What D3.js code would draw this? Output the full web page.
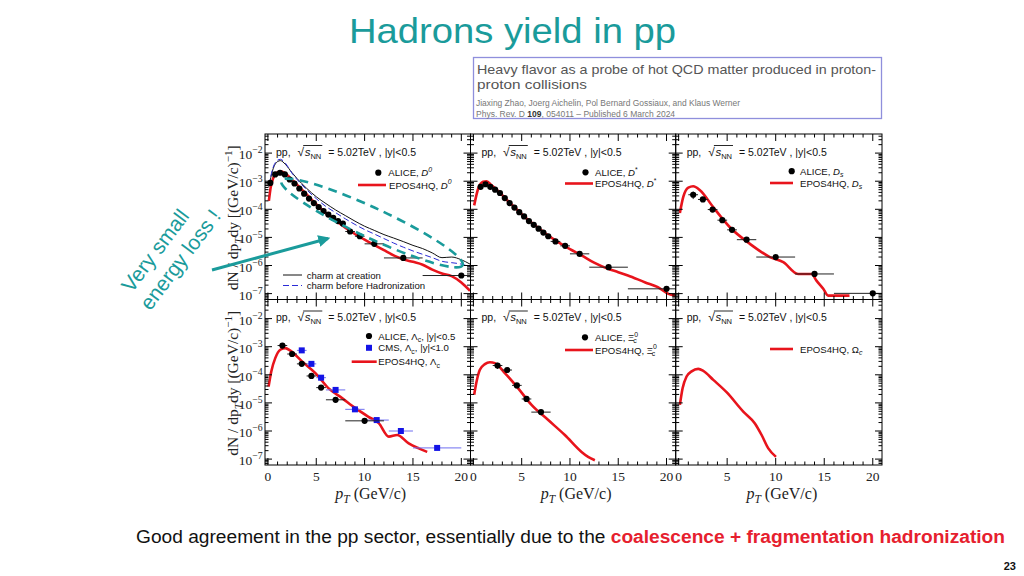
<!DOCTYPE html>
<html><head><meta charset="utf-8">
<script src="https://cdn.jsdelivr.net/npm/d3@7"></script>
<style>body{margin:0;background:#fff;} svg{display:block;}</style>
</head><body>
<svg id="c" width="1024" height="576"></svg>
<script>
// ---------------- DATA ----------------
const xTicks = [0, 5, 10, 15, 20];
const yTickExps = [-2, -3, -4, -5, -6, -7];

// D0 (top-left)
const d0Pt  = [0.25,0.75,1.25,1.75,2.25,2.75,3.25,3.75,4.25,4.75,5.25,5.75,6.25,6.75,7.25,7.75,8.5,9.5,11,14,20];
const d0Lo  = [0,0.5,1,1.5,2,2.5,3,3.5,4,4.5,5,5.5,6,6.5,7,7.5,8,9,10,12,16];
const d0Hi  = [0.5,1,1.5,2,2.5,3,3.5,4,4.5,5,5.5,6,6.5,7,7.5,8,9,10,12,16,24];
const d0Val = [8.7e-4,1.74e-3,2.0e-3,1.74e-3,1.15e-3,8.3e-4,5.5e-4,3.6e-4,2.4e-4,1.66e-4,1.2e-4,8.7e-5,6.5e-5,5.0e-5,3.8e-5,3.1e-5,1.62e-5,1.1e-5,5.9e-6,1.86e-6,4.4e-7];
const d0EposPt  = [0.1,0.3,0.6,1.0,1.4,2.0,2.5,3.0,4,5,6,7,8,9,10,11,12,13,14,15,16,17,18,19,20,20.9];
const d0EposVal = [2.0e-4,6.3e-4,1.41e-3,2.1e-3,2.2e-3,1.66e-3,1.12e-3,7.6e-4,3.4e-4,1.51e-4,7.4e-5,4.0e-5,2.24e-5,1.32e-5,8.3e-6,5.4e-6,3.5e-6,2.3e-6,1.66e-6,1.35e-6,1.07e-6,7.1e-7,5.2e-7,4.2e-7,2.5e-7,1.26e-7];
const d0CreatePt  = [0.1,0.5,1.0,1.3,1.8,2.5,3,4,5,6,7,8,9,10,11,12,13,14,15,16,17,18,19,20,20.9];
const d0CreateVal = [6.3e-4,2.5e-3,5.0e-3,5.4e-3,4.0e-3,2.0e-3,1.26e-3,5.6e-4,2.8e-4,1.6e-4,9.5e-5,6.0e-5,3.8e-5,2.5e-5,1.78e-5,1.26e-5,9.5e-6,7.1e-6,5.2e-6,4.0e-6,2.8e-6,1.9e-6,2.0e-6,1.6e-6,1.12e-6];
const d0BeforePt  = [0.1,0.5,1.0,1.3,1.8,2.5,3,4,5,6,7,8,9,10,11,12,13,14,15,16,17,18,19,20,20.9];
const d0BeforeVal = [7.1e-4,2.8e-3,5.6e-3,6.0e-3,4.4e-3,1.9e-3,1.17e-3,5.0e-4,2.4e-4,1.26e-4,7.6e-5,4.6e-5,2.9e-5,1.9e-5,1.32e-5,9.1e-6,6.3e-6,4.5e-6,3.3e-6,2.5e-6,1.9e-6,1.41e-6,1.26e-6,1.12e-6,8.9e-7];

// D* (top-middle)
const dstPt  = [0.75,1.25,1.75,2.25,2.75,3.25,3.75,4.25,4.75,5.25,5.75,6.25,6.75,7.25,7.75,8.5,9.5,11,14,20];
const dstLo  = [0.5,1,1.5,2,2.5,3,3.5,4,4.5,5,5.5,6,6.5,7,7.5,8,9,10,12,16];
const dstHi  = [1,1.5,2,2.5,3,3.5,4,4.5,5,5.5,6,6.5,7,7.5,8,9,10,12,16,24];
const dstVal = [6.3e-4,7.8e-4,6.3e-4,5.0e-4,3.8e-4,2.5e-4,1.66e-4,1.15e-4,7.9e-5,5.6e-5,3.8e-5,2.8e-5,2.04e-5,1.48e-5,1.1e-5,7.2e-6,5.0e-6,2.6e-6,8.7e-7,1.48e-7];
const dstEposPt  = [0.08,0.5,1.0,1.36,1.88,2.5,3.5,4.5,5.5,6.5,7.5,8.78,10,11.2,12.5,13.95,15,16,17.8,19.1,20.2,20.9];
const dstEposVal = [1.38e-4,5.5e-4,9.5e-4,1.0e-3,7.2e-4,4.7e-4,2.1e-4,9.8e-5,4.7e-5,2.5e-5,1.35e-5,6.8e-6,3.8e-6,2.3e-6,1.26e-6,7.6e-7,5.8e-7,4.4e-7,2.5e-7,1.7e-7,9.8e-8,8.5e-8];

// Ds (top-right)
const dsPt  = [1.5,2.5,3.5,4.5,5.5,7,10,14,20];
const dsLo  = [1,2,3,4,5,6,8,12,16];
const dsHi  = [2,3,4,5,6,8,12,16,24];
const dsVal = [3.3e-4,2.24e-4,9.8e-5,4.1e-5,1.86e-5,8.3e-6,2.0e-6,5.0e-7,1.02e-7];
const dsErr = [0.3,0.15,0.15,0.15,0.15,0.1,0.1,0.12,0.15];
const dsEposPt  = [0.13,0.48,1.0,1.5,2.2,3.56,5.28,7.34,9.4,10.78,12.3,13.7,14.2,14.9,15.4,17.6];
const dsEposVal = [7.4e-5,2.75e-4,5.9e-4,6.6e-4,4.8e-4,1.2e-4,2.3e-5,5.9e-6,2.0e-6,1.32e-6,5.0e-7,5.0e-7,2.9e-7,1.48e-7,8.5e-8,8.5e-8];

// Lambda_c (bottom-left)
const lcAlicePt  = [1.5,2.5,3.5,4.5,5.5,7,10];
const lcAliceLo  = [1,2,3,4,5,6,8];
const lcAliceHi  = [2,3,4,5,6,8,12];
const lcAliceVal = [1.1e-3,5.5e-4,2.45e-4,9.1e-5,3.5e-5,1.29e-5,2.3e-6];
const lcAliceErr = [0.2,0.12,0.1,0.15,0.15,0.15,0.15];
const lcCmsPt  = [3.5,4.5,5.5,7,9,11.25,13.75,17.5];
const lcCmsLo  = [3,4,5,6,8,10,12.5,15];
const lcCmsHi  = [4,5,6,8,10,12.5,15,20];
const lcCmsVal = [7.4e-4,2.45e-4,7.9e-5,2.9e-5,5.9e-6,2.45e-6,1.0e-6,2.5e-7];
const lcEposPt  = [0.07,0.35,0.77,1.28,1.8,2.32,3.53,4.91,6.28,7.67,9.05,10.4,11.46,12.5,13.36,14.56,15.6,16.47];
const lcEposVal = [3.8e-5,1.32e-4,4.0e-4,7.8e-4,8.9e-4,7.2e-4,3.0e-4,1.15e-4,3.3e-5,1.48e-5,6.5e-6,3.2e-6,1.9e-6,6.3e-7,7.2e-7,3.6e-7,2.4e-7,1.8e-7];

// Xi_c0 (bottom-middle)
const xiPt  = [2.5,3.5,4.5,5.5,7];
const xiLo  = [2,3,4,5,6];
const xiHi  = [3,4,5,6,8];
const xiVal = [2.14e-4,1.48e-4,4.2e-5,1.38e-5,4.7e-6];
const xiErr = [0.25,0.15,0.2,0.2,0.2];
const xiEposPt  = [0.08,0.33,0.67,1.19,1.71,2.23,3.26,4.64,6.02,7.75,9.47,11.2,11.88,12.58];
const xiEposVal = [1.95e-5,5.8e-5,1.51e-4,2.4e-4,2.8e-4,2.6e-4,1.15e-4,3.3e-5,8.5e-6,2.45e-6,7.2e-7,1.8e-7,1.2e-7,9.1e-8];

// Omega_c (bottom-right)
const omEposPt  = [0.13,0.41,0.82,1.34,2.02,2.54,3.57,4.94,6.66,7.86,8.55,9.24,10.03];
const omEposVal = [8.5e-6,3.3e-5,8.7e-5,1.32e-4,1.62e-4,1.38e-4,6.6e-5,2.4e-5,4.9e-6,1.86e-6,7.2e-7,2.4e-7,1.2e-7];

// ---------------- DRAWING ----------------
const SANS = "'Liberation Sans', Arial, sans-serif";
const SERIF = "'Liberation Serif', 'Times New Roman', serif";
const TEAL = "#1a9b9b";
const RED = "#e8141c";
const svg = d3.select("#c");

// title
svg.append("text").attr("x", 349).attr("y", 43).attr("font-family", SANS).attr("font-size", 35)
  .attr("fill", TEAL).attr("textLength", 327).attr("lengthAdjust", "spacingAndGlyphs").text("Hadrons yield in pp");

// citation box
svg.append("rect").attr("x", 473.5).attr("y", 57.5).attr("width", 408).attr("height", 61)
  .attr("fill", "#fff").attr("stroke", "#8f8fdc").attr("stroke-width", 1.3);
const cit = [
  {t:"Heavy flavor as a probe of hot QCD matter produced in proton-", y:74, s:13.5, w:399, c:"#555"},
  {t:"proton collisions", y:89, s:13.5, w:110, c:"#555"},
];
cit.forEach(d => svg.append("text").attr("x", 477).attr("y", d.y).attr("font-family", SANS).attr("font-size", d.s)
  .attr("fill", d.c).attr("textLength", d.w).attr("lengthAdjust", "spacingAndGlyphs").text(d.t));
svg.append("text").attr("x", 476).attr("y", 106).attr("font-family", SANS).attr("font-size", 8.5).attr("fill", "#777")
  .attr("textLength", 264).attr("lengthAdjust", "spacingAndGlyphs")
  .text("Jiaxing Zhao, Joerg Aichelin, Pol Bernard Gossiaux, and Klaus Werner");
const pr = svg.append("text").attr("x", 476).attr("y", 116.5).attr("font-family", SANS).attr("font-size", 8.5).attr("fill", "#777");
pr.append("tspan").text("Phys. Rev. D ");
pr.append("tspan").attr("font-weight", "bold").attr("fill", "#333").text("109");
pr.append("tspan").text(", 054011 \u2013 Published 6 March 2024");

// rich text helper
function rich(sel, segs, size) {
  let cur = 0;
  segs.forEach(s => {
    const target = s.sup ? -size * 0.42 : s.sub ? size * 0.25 : 0;
    const ts = sel.append("tspan").attr("dy", target - cur).text(s.t);
    if (s.sup || s.sub) ts.attr("font-size", size * 0.72);
    if (s.i) ts.attr("font-style", "italic");
    if (s.dx) ts.attr("dx", s.dx);
    cur = target;
  });
}

const cols = [[265, 470.5], [470.5, 675.7], [675.7, 882]];
const rows = [[134, 299.5], [299.5, 465]];
const xDom = [-0.3, 20.95];
const yDom = [Math.pow(10, -7.21), Math.pow(10, -1.32)];

const BLUE = "#2b2bd6";
const panels = [
  {c:0, r:0,
   curves:[{x:d0CreatePt, y:d0CreateVal, color:"#111", w:1},
           {x:d0BeforePt, y:d0BeforeVal, color:BLUE, w:1, dash:"6,3"},
           {x:d0EposPt, y:d0EposVal, color:RED, w:2.6}],
   pts:[{x:d0Pt, y:d0Val, lo:d0Lo, hi:d0Hi, shape:"dot"}],
   leg:[{type:"dot", x:113.3, y:38.7, tx:123.3, segs:[{t:"ALICE, "},{t:"D",i:1},{t:"0",sup:1,i:1}]},
        {type:"line", x:93, x2:121, y:51, tx:124, segs:[{t:"EPOS4HQ, "},{t:"D",i:1},{t:"0",sup:1,i:1}]},
        {type:"black", x:18, x2:37, y:141, tx:41.7, segs:[{t:"charm at creation"}]},
        {type:"dash", x:18, x2:37, y:151.5, tx:41.7, segs:[{t:"charm before Hadronization"}]}]},
  {c:1, r:0,
   curves:[{x:dstEposPt, y:dstEposVal, color:RED, w:2.6}],
   pts:[{x:dstPt, y:dstVal, lo:dstLo, hi:dstHi, shape:"dot"}],
   leg:[{type:"dot", x:115, y:38.3, tx:124.5, segs:[{t:"ALICE, "},{t:"D",i:1},{t:"*",sup:1}]},
        {type:"line", x:94.5, x2:122.5, y:49.5, tx:124.5, segs:[{t:"EPOS4HQ, "},{t:"D",i:1},{t:"*",sup:1}]}]},
  {c:2, r:0,
   curves:[{x:dsEposPt, y:dsEposVal, color:RED, w:2.6}],
   pts:[{x:dsPt, y:dsVal, lo:dsLo, hi:dsHi, err:dsErr, shape:"dot"}],
   leg:[{type:"dot", x:116, y:37.2, tx:124.3, segs:[{t:"ALICE, "},{t:"D",i:1},{t:"s",sub:1,i:1}]},
        {type:"line", x:94.3, x2:117.3, y:49, tx:124.3, segs:[{t:"EPOS4HQ, "},{t:"D",i:1},{t:"s",sub:1,i:1}]}]},
  {c:0, r:1,
   curves:[{x:lcEposPt, y:lcEposVal, color:RED, w:2.6}],
   pts:[{x:lcCmsPt, y:lcCmsVal, lo:lcCmsLo, hi:lcCmsHi, shape:"square"},
        {x:lcAlicePt, y:lcAliceVal, lo:lcAliceLo, hi:lcAliceHi, err:lcAliceErr, shape:"dot"}],
   leg:[{type:"dot", x:104, y:36.5, tx:113.3, segs:[{t:"ALICE, \u039B"},{t:"c",sub:1},{t:", |y|<0.5"}]},
        {type:"square", x:104, y:48.3, tx:113.3, segs:[{t:"CMS, \u039B"},{t:"c",sub:1},{t:", |y|<1.0"}]},
        {type:"line", x:86.7, x2:111.7, y:62.2, tx:113.3, segs:[{t:"EPOS4HQ, \u039B"},{t:"c",sub:1}]}]},
  {c:1, r:1,
   curves:[{x:xiEposPt, y:xiEposVal, color:RED, w:2.6}],
   pts:[{x:xiPt, y:xiVal, lo:xiLo, hi:xiHi, err:xiErr, shape:"dot"}],
   leg:[{type:"dot", x:114.5, y:37.8, tx:124.5, segs:[{t:"ALICE, \u039E"},{t:"0",sup:1},{t:"c",sub:1,dx:-5}]},
        {type:"line", x:94.5, x2:122.5, y:50.5, tx:124.5, segs:[{t:"EPOS4HQ, \u039E"},{t:"0",sup:1},{t:"c",sub:1,dx:-5}]}]},
  {c:2, r:1,
   curves:[{x:omEposPt, y:omEposVal, color:RED, w:2.6}],
   pts:[],
   leg:[{type:"line", x:94.3, x2:117.3, y:49.5, tx:124.3, segs:[{t:"EPOS4HQ, \u03A9"},{t:"c",sub:1,i:1}]}]},
];

panels.forEach((p, pi) => {
  const [x0, x1] = cols[p.c], [y0, y1] = rows[p.r];
  const x = d3.scaleLinear().domain(xDom).range([x0, x1]);
  const y = d3.scaleLog().domain(yDom).range([y1, y0]);
  const g = svg.append("g");
  const cid = "clip" + pi;
  svg.append("clipPath").attr("id", cid).append("rect").attr("x", x0).attr("y", y0).attr("width", x1 - x0).attr("height", y1 - y0);
  const pl = g.append("g").attr("clip-path", `url(#${cid})`);

  // curves
  const line = d3.line().x(d => x(d[0])).y(d => y(d[1])).curve(d3.curveMonotoneX);
  p.curves.forEach(cv => {
    const pts = cv.x.map((v, i) => [v, cv.y[i]]);
    pl.append("path").attr("d", line(pts)).attr("fill", "none").attr("stroke", cv.color)
      .attr("stroke-width", cv.w).attr("stroke-dasharray", cv.dash || null).attr("stroke-linejoin", "round");
  });
  // points
  p.pts.forEach(s => {
    const col = s.shape === "square" ? "#1414e6" : "#000";
    const barCol = s.shape === "square" ? "#6f6ff0" : "#222";
    s.x.forEach((v, i) => {
      pl.append("line").attr("x1", x(s.lo[i])).attr("x2", x(s.hi[i])).attr("y1", y(s.y[i])).attr("y2", y(s.y[i]))
        .attr("stroke", barCol).attr("stroke-width", 1);
      if (s.err) {
        pl.append("line").attr("x1", x(v)).attr("x2", x(v))
          .attr("y1", y(s.y[i] * (1 + s.err[i]))).attr("y2", y(s.y[i] * (1 - s.err[i])))
          .attr("stroke", barCol).attr("stroke-width", 1);
      }
      if (s.shape === "square") {
        pl.append("rect").attr("x", x(v) - 3).attr("y", y(s.y[i]) - 3).attr("width", 6).attr("height", 6).attr("fill", col);
      } else {
        pl.append("circle").attr("cx", x(v)).attr("cy", y(s.y[i])).attr("r", 3.1).attr("fill", col);
      }
    });
  });

  // frame
  g.append("rect").attr("x", x0).attr("y", y0).attr("width", x1 - x0).attr("height", y1 - y0)
    .attr("fill", "none").attr("stroke", "#000").attr("stroke-width", 1);
  // x ticks (inward, top & bottom)
  for (let t = 0; t <= 20; t++) {
    const L = t % 5 === 0 ? 7 : 3.5;
    g.append("line").attr("x1", x(t)).attr("x2", x(t)).attr("y1", y1).attr("y2", y1 - L).attr("stroke", "#000");
    g.append("line").attr("x1", x(t)).attr("x2", x(t)).attr("y1", y0).attr("y2", y0 + L).attr("stroke", "#000");
  }
  // y ticks (inward, left & right)
  for (let e = -8; e <= -1; e++) {
    for (let m = 1; m <= 9; m++) {
      const v = m * Math.pow(10, e);
      if (v < yDom[0] || v > yDom[1]) continue;
      const L = m === 1 ? 7 : 3.5;
      g.append("line").attr("x1", x0).attr("x2", x0 + L).attr("y1", y(v)).attr("y2", y(v)).attr("stroke", "#000");
      g.append("line").attr("x1", x1).attr("x2", x1 - L).attr("y1", y(v)).attr("y2", y(v)).attr("stroke", "#000");
    }
  }
  // y tick labels (left column)
  if (p.c === 0) {
    yTickExps.forEach(e => {
      const t = g.append("text").attr("x", x0 - 2.5).attr("y", y(Math.pow(10, e)) + 6)
        .attr("text-anchor", "end").attr("font-family", SERIF).attr("font-size", 13.5).attr("fill", "#222");
      rich(t, [{t:"10"}, {t:"\u2212" + (-e), sup:1}], 13.5);
    });
    const yt = g.append("text")
      .attr("transform", `translate(${x0 - 27},${(y0 + y1) / 2 + 1}) rotate(-90)`)
      .attr("text-anchor", "middle").attr("font-family", SERIF).attr("font-size", 15.5).attr("fill", "#222");
    rich(yt, [{t:"dN / dp"}, {t:"T", sub:1, i:1}, {t:"dy [(GeV/c)"}, {t:"\u22121", sup:1}, {t:"]"}], 15.5);
  }
  // x tick labels (bottom row)
  if (p.r === 1) {
    xTicks.forEach(t => {
      g.append("text").attr("x", x(t)).attr("y", 481).attr("text-anchor", "middle")
        .attr("font-family", SERIF).attr("font-size", 13.5).attr("fill", "#222").text(t);
    });
    const xt = g.append("text").attr("x", (x0 + x1) / 2 + 3).attr("y", 499).attr("text-anchor", "middle")
      .attr("font-family", SERIF).attr("font-size", 16).attr("fill", "#222");
    rich(xt, [{t:"p", i:1}, {t:"T", sub:1, i:1}, {t:" (GeV/c)"}], 16);
  }

  // header text
  const hx = x0 + 11, hy = y0 + 21.5;
  const ht = g.append("text").attr("x", hx).attr("y", hy).attr("font-family", SANS).attr("font-size", 10.5).attr("fill", "#111");
  ht.append("tspan").text("pp,");
  ht.append("tspan").attr("dx", 7).attr("font-size", 12).text("\u221A");
  ht.append("tspan").attr("dx", 0.5).attr("font-style", "italic").attr("font-size", 11.5).text("s");
  ht.append("tspan").attr("dy", 3).attr("font-size", 7.5).text("NN");
  ht.append("tspan").attr("dy", -3).attr("dx", 7).text("= 5.02TeV , |y|<0.5");
  const ex1 = ht.node().getExtentOfChar(3), ex2 = ht.node().getExtentOfChar(6);
  g.append("line").attr("x1", ex1.x + ex1.width - 1).attr("x2", ex2.x + ex2.width + 1)
    .attr("y1", ex1.y + 1).attr("y2", ex1.y + 1).attr("stroke", "#111").attr("stroke-width", 0.9);

  // legend
  p.leg.forEach(L => {
    const ly = y0 + L.y;
    if (L.type === "dot") g.append("circle").attr("cx", x0 + L.x).attr("cy", ly).attr("r", 3.1).attr("fill", "#000");
    else if (L.type === "square") g.append("rect").attr("x", x0 + L.x - 3).attr("y", ly - 3).attr("width", 6).attr("height", 6).attr("fill", "#1414e6");
    else {
      const st = L.type === "line" ? {c:RED, w:2.6, d:null} : L.type === "black" ? {c:"#111", w:1, d:null} : {c:BLUE, w:1, d:"6,3"};
      g.append("line").attr("x1", x0 + L.x).attr("x2", x0 + L.x2).attr("y1", ly).attr("y2", ly)
        .attr("stroke", st.c).attr("stroke-width", st.w).attr("stroke-dasharray", st.d);
    }
    const lt = g.append("text").attr("x", x0 + L.tx).attr("y", ly + 3.5).attr("font-family", SANS)
      .attr("font-size", 9.6).attr("fill", "#111");
    rich(lt, L.segs, 9.6);
  });
});

// annotations: dashed ellipse, arrow, rotated text
svg.append("ellipse").attr("cx", 0).attr("cy", 0).attr("rx", 100).attr("ry", 15)
  .attr("transform", "translate(372,223) rotate(25)")
  .attr("fill", "none").attr("stroke", TEAL).attr("stroke-width", 2.6).attr("stroke-dasharray", "9,6");
svg.append("defs").append("marker").attr("id", "ah").attr("viewBox", "0 0 10 10").attr("refX", 8).attr("refY", 5)
  .attr("markerWidth", 4).attr("markerHeight", 4).attr("orient", "auto")
  .append("path").attr("d", "M0,0 L10,5 L0,10 z").attr("fill", TEAL);
svg.append("line").attr("x1", 212).attr("y1", 270).attr("x2", 328).attr("y2", 238.5)
  .attr("stroke", TEAL).attr("stroke-width", 3).attr("marker-end", "url(#ah)");
svg.append("text").attr("transform", "translate(161,255) rotate(-53)").attr("text-anchor", "middle")
  .attr("font-family", SANS).attr("font-size", 21).attr("fill", TEAL).text("Very small");
svg.append("text").attr("transform", "translate(186,264) rotate(-53)").attr("text-anchor", "middle")
  .attr("font-family", SANS).attr("font-size", 21).attr("fill", TEAL).text("energy loss !");

// bottom sentence
const bt = svg.append("text").attr("x", 136).attr("y", 543).attr("font-family", SANS).attr("font-size", 17.5)
  .attr("fill", "#111").attr("textLength", 869).attr("lengthAdjust", "spacingAndGlyphs");
bt.append("tspan").text("Good agreement in the pp sector, essentially due to the ");
bt.append("tspan").attr("font-weight", "bold").attr("fill", "#e6202e").text("coalescence + fragmentation hadronization");
svg.append("text").attr("x", 1016).attr("y", 570).attr("text-anchor", "end").attr("font-family", SANS)
  .attr("font-size", 11).attr("font-weight", "bold").attr("fill", "#111").text("23");
</script>
</body></html>
